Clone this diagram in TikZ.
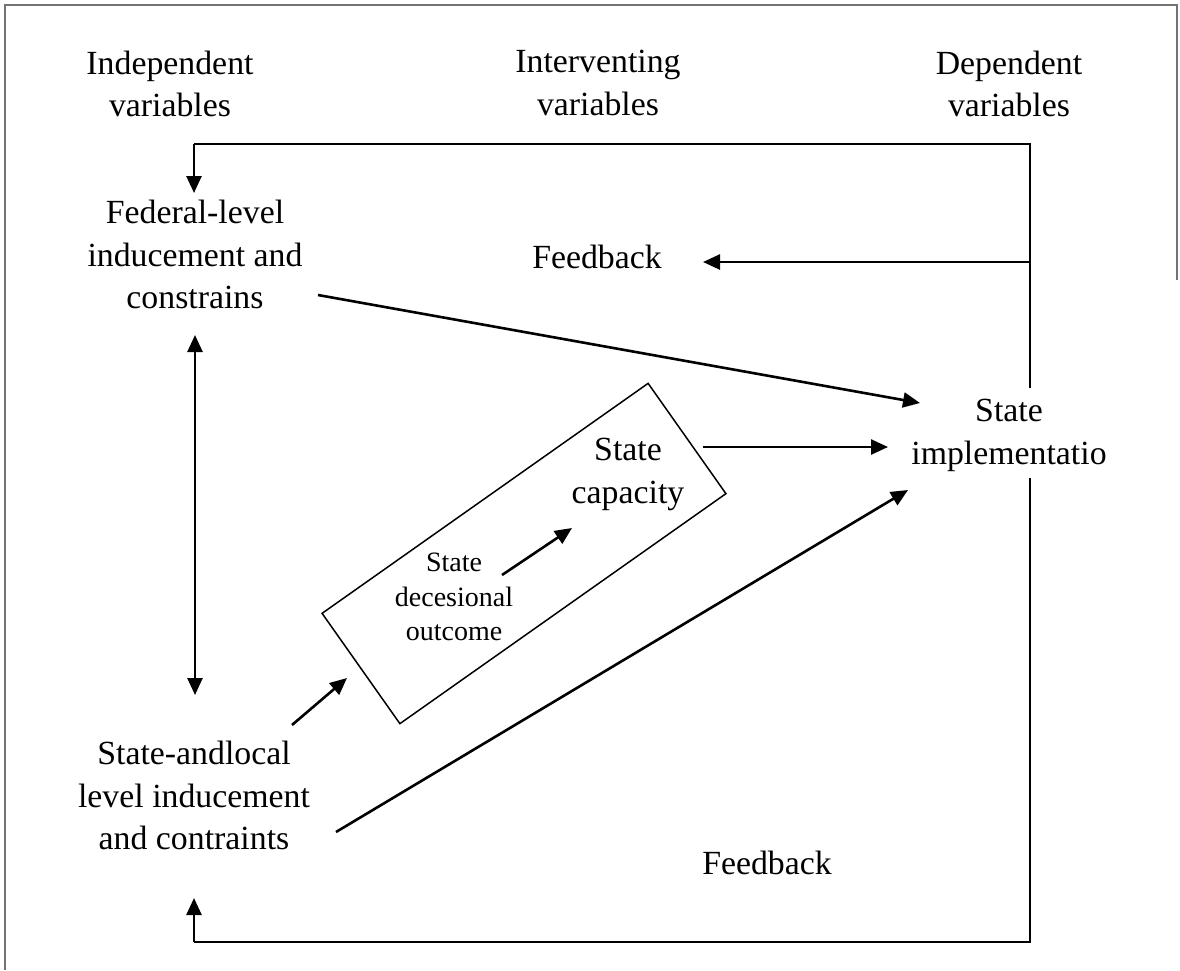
\documentclass[tikz,border=0pt]{standalone}
\usepackage{fontspec}
\setmainfont{Liberation Serif}
\usetikzlibrary{arrows.meta}
\newcommand{\bigtxt}{\fontsize{33.8}{42.5}\selectfont}
\newcommand{\smalltxt}{\fontsize{28}{34.5}\selectfont}
\begin{document}
\begin{tikzpicture}[x=1pt,y=-1pt,
  lbl/.style={align=center,inner sep=0pt,font=\bigtxt,
    execute at begin node=\strut,execute at end node=\strut},
  slbl/.style={align=center,inner sep=0pt,font=\smalltxt,
    execute at begin node=\strut,execute at end node=\strut},
  arr/.style={line width=2.6pt,-{Triangle[length=17pt,width=15pt]}},
  darr/.style={line width=2.6pt,{Triangle[length=17pt,width=15pt]}-{Triangle[length=17pt,width=15pt]}},
  loopline/.style={line width=2.2pt},
  frame/.style={line width=2pt,draw=black!55}]
\useasboundingbox (0,0) rectangle (1180,970);
% outer (partial) frame
\draw[frame] (5,970) -- (5,5) -- (1177,5) -- (1177,280);

% headings
\node[lbl] (indep) at (170,90) {Independent\\variables};
\node[lbl] (interv) at (598,89) {Interventing\\variables};
\node[lbl] (dep) at (1009,90) {Dependent\\variables};

% main nodes
\node[lbl] (fed) at (195,261) {Federal-level\\inducement and\\constrains};
\node[lbl] (fbtop) at (597,260) {Feedback};
\node[lbl] (impl) at (1009,438) {State\\implementatio};
\node[lbl] (local) at (194,802) {State-andlocal\\level inducement\\and contraints};
\node[lbl] (fbbot) at (767,866) {Feedback};

% rotated box
\node[draw,line width=1.5pt,rotate=35.2,minimum width=399pt,minimum height=135pt] (box) at (524,553.5) {};
\node[lbl] (cap) at (628,477) {State\\capacity};
\node[slbl] (dec) at (454,602) {State\\decesional\\outcome};

% coordinates
\coordinate (tl) at (194,144);
\coordinate (tr) at (1030,144);
\coordinate (fedin) at (194,193);
\coordinate (rfb) at (1030,262);
\coordinate (fbtip) at (703,262);
\coordinate (rgapt) at (1030,388);
\coordinate (rgapb) at (1030,478);
\coordinate (br) at (1030,942);
\coordinate (bl) at (194,942);
\coordinate (localin) at (194,898);
\coordinate (dtop) at (195,335);
\coordinate (dbot) at (195,695);
\coordinate (fedout) at (318,295);
\coordinate (implin1) at (920,403);
\coordinate (boxout) at (703,447);
\coordinate (implin2) at (888,447);
\coordinate (localout) at (336,832);
\coordinate (implin3) at (908,490);
\coordinate (localbox) at (292,725);
\coordinate (boxin) at (347,678);
\coordinate (decout) at (502,575);
\coordinate (capin) at (572,528);

% feedback loop
\draw[loopline] (rgapt) -- (tr) -- (tl);
\draw[arr] (tl) -- (fedin);
\draw[arr] (rfb) -- (fbtip);
\draw[loopline] (rgapb) -- (br) -- (bl);
\draw[arr] (bl) -- (localin);

% arrows
\draw[darr] (dtop) -- (dbot);
\draw[arr] (fedout) -- (implin1);
\draw[arr] (boxout) -- (implin2);
\draw[arr] (localout) -- (implin3);
\draw[arr] (localbox) -- (boxin);
\draw[arr] (decout) -- (capin);
\end{tikzpicture}
\end{document}
